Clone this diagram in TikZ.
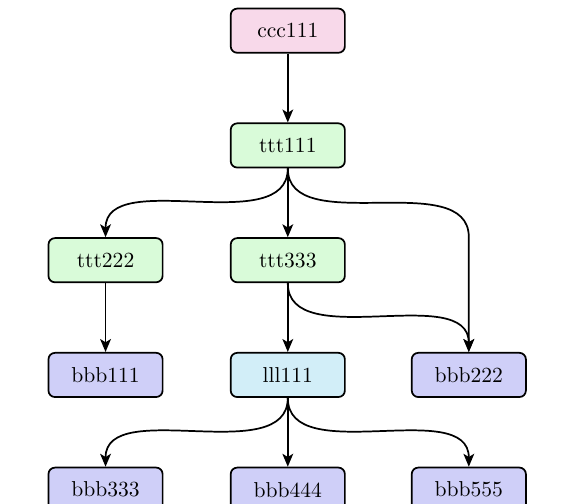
\documentclass[tikz,border=0pt]{standalone}
\usepackage{tikz}
\usetikzlibrary{arrows.meta}

\definecolor{cpink}{RGB}{248,217,234}
\definecolor{tgreen}{RGB}{217,251,217}
\definecolor{lblue}{RGB}{210,238,248}
\definecolor{bviolet}{RGB}{207,207,248}

\tikzset{
	box/.style={draw, thick, rounded corners=3pt, minimum width=1.86cm, minimum height=0.72cm, inner sep=0pt},
	arr/.style={thick, -{Stealth[length=6pt, width=5pt, inset=1.5pt]}},
	bendy/.style={to path={.. controls +(0,-1.15) and +(0,1.15) .. (\tikztotarget)}}
}

\begin{document}
\begin{tikzpicture}
	\useasboundingbox (-4.69,0.50) rectangle (4.55,-7.70);
	\node[box, fill=cpink] (ccc111) at (0,0) {ccc111};
	\node[box, fill=tgreen] (ttt111) at (0,-1.87) {ttt111};
	\node[box, fill=tgreen] (ttt222) at (-2.97,-3.74) {ttt222};
	\node[box, fill=tgreen] (ttt333) at (0,-3.74) {ttt333};
	\node[box, fill=bviolet] (bbb111) at (-2.97,-5.61) {bbb111};
	\node[box, fill=lblue] (lll111) at (0,-5.61) {lll111};
	\node[box, fill=bviolet] (bbb222) at (2.95,-5.61) {bbb222};
	\node[box, fill=bviolet] (bbb333) at (-2.97,-7.48) {bbb333};
	\node[box, fill=bviolet] (bbb444) at (0,-7.48) {bbb444};
	\node[box, fill=bviolet] (bbb555) at (2.95,-7.48) {bbb555};
	% the long edge passes the third row on the right
	\coordinate (via) at (bbb222.north |- ttt333.north);
	\draw[arr] (ccc111) -- (ttt111);
	\draw[arr] (ttt111) -- (ttt333);
	\draw[arr] (ttt111.south) to[bendy] (ttt222.north);
	\draw[arr] (ttt111.south) to[bendy] (via) -- (bbb222.north);
	\draw[arr] (ttt222) -- (bbb111);
	\draw[arr] (ttt333) -- (lll111);
	\draw[arr] (ttt333.south) to[bendy] (bbb222.north);
	\draw[arr] (lll111) -- (bbb444);
	\draw[arr] (lll111.south) to[bendy] (bbb333.north);
	\draw[arr] (lll111.south) to[bendy] (bbb555.north);
\end{tikzpicture}
\end{document}
